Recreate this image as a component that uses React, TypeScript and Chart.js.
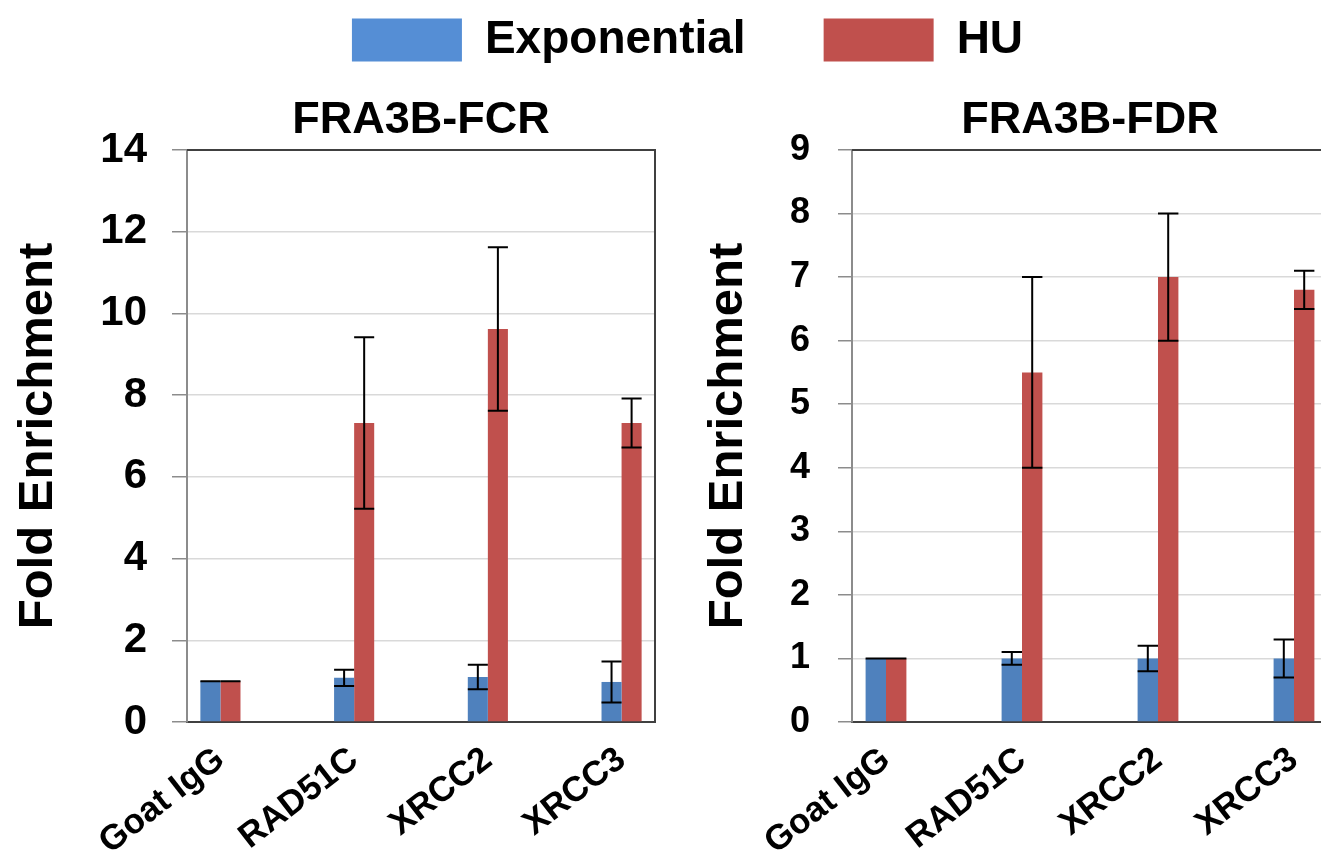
import React, { useEffect, useRef } from "react";
import { Chart, registerables } from "chart.js";

Chart.register(...registerables);

// ---------- data ----------
const categories = ["Goat IgG", "RAD51C", "XRCC2", "XRCC3"];
const seriesNames = ["Exponential", "HU"];

const fcrTitle = "FRA3B-FCR";
const fcrExponential = [1.0, 1.08, 1.1, 0.98];
const fcrExponentialErr = [0, 0.2, 0.3, 0.5];
const fcrHU = [1.0, 7.32, 9.62, 7.32];
const fcrHUErr = [0, 2.1, 2.0, 0.6];
const fcrYTicks = [0, 2, 4, 6, 8, 10, 12, 14];

const fdrTitle = "FRA3B-FDR";
const fdrExponential = [1.0, 1.0, 1.0, 1.0];
const fdrExponentialErr = [0, 0.1, 0.2, 0.3];
const fdrHU = [1.0, 5.5, 7.0, 6.8];
const fdrHUErr = [0, 1.5, 1.0, 0.3];
const fdrYTicks = [0, 1, 2, 3, 4, 5, 6, 7, 8, 9];

const yTitle = "Fold Enrichment";

// ---------- styles ----------
const FONT = "'Liberation Sans', Arial, sans-serif";
const BLUE = "#4f81bd";
const RED = "#c0504d";
const LEGEND_BLUE = "#558ed5";

const errorBarPlugin = {
  id: "errorBars",
  afterDatasetsDraw(chart: any) {
    const { ctx } = chart;
    const yScale = chart.scales.y;
    chart.data.datasets.forEach((ds: any, di: number) => {
      const errs = ds.errors;
      if (!errs) return;
      const meta = chart.getDatasetMeta(di);
      meta.data.forEach((bar: any, i: number) => {
        const v = ds.data[i].y;
        const e = errs[i];
        const top = yScale.getPixelForValue(v + e);
        const bot = yScale.getPixelForValue(v - e);
        const half = bar.width / 2;
        ctx.save();
        ctx.strokeStyle = "#000";
        ctx.lineWidth = 2;
        ctx.beginPath();
        ctx.moveTo(bar.x, top);
        ctx.lineTo(bar.x, bot);
        ctx.moveTo(bar.x - half, top);
        ctx.lineTo(bar.x + half, top);
        ctx.moveTo(bar.x - half, bot);
        ctx.lineTo(bar.x + half, bot);
        ctx.stroke();
        ctx.restore();
      });
    });
  },
};

const framePlugin = {
  id: "frame",
  afterDraw(chart: any) {
    const { ctx, chartArea: a } = chart;
    ctx.save();
    ctx.strokeStyle = "#404040";
    ctx.lineWidth = 2;
    ctx.beginPath();
    ctx.moveTo(a.left, a.top);
    ctx.lineTo(a.right, a.top);
    ctx.lineTo(a.right, a.bottom);
    ctx.stroke();
    ctx.restore();
  },
};

function panelConfig(p: {
  title: string;
  exp: number[];
  expErr: number[];
  hu: number[];
  huErr: number[];
  yTicks: number[];
  yAxisWidth: number;
  tickFont: number;
  tickPad: number;
  tickLen: number;
  yTitlePad: number;
  padRight: number;
}) {
  const yMax = p.yTicks[p.yTicks.length - 1];
  return {
    type: "bar",
    data: {
      datasets: [
        {
          label: seriesNames[0],
          data: p.exp.map((y, i) => ({ x: i, y })),
          errors: p.expErr,
          backgroundColor: BLUE,
          categoryPercentage: 0.3,
          barPercentage: 1.0,
        },
        {
          label: seriesNames[1],
          data: p.hu.map((y, i) => ({ x: i, y })),
          errors: p.huErr,
          backgroundColor: RED,
          categoryPercentage: 0.3,
          barPercentage: 1.0,
        },
      ],
    },
    options: {
      responsive: false,
      animation: false,
      layout: { padding: { left: 0, right: p.padRight, top: 0, bottom: 0 } },
      scales: {
        x: {
          type: "linear",
          min: -0.25,
          max: 3.25,
          offset: false,
          afterBuildTicks: (s: any) => {
            s.ticks = categories.map((_, i) => ({ value: i }));
          },
          afterFit: (s: any) => {
            s.height = 135;
          },
          ticks: {
            autoSkip: false,
            minRotation: 38,
            maxRotation: 38,
            padding: 9,
            color: "#000",
            font: { family: FONT, size: 35, weight: "bold" },
            callback: (_v: any, idx: number) => categories[idx],
          },
          grid: { display: false },
          border: { display: true, color: "#404040", width: 2 },
        },
        y: {
          min: 0,
          max: yMax,
          afterBuildTicks: (s: any) => {
            s.ticks = p.yTicks.map((v) => ({ value: v }));
          },
          afterFit: (s: any) => {
            s.width = p.yAxisWidth;
          },
          ticks: {
            color: "#000",
            padding: p.tickPad,
            font: { family: FONT, size: p.tickFont, weight: "bold" },
          },
          grid: {
            color: (c: any) => (c.tick && c.tick.value === 0 ? "rgba(0,0,0,0)" : "#d9d9d9"),
            lineWidth: 1.5,
            tickLength: p.tickLen,
            tickColor: "#8c8c8c",
            tickWidth: 1.5,
          },
          border: { color: "#8c8c8c", width: 2 },
          title: {
            display: true,
            text: yTitle,
            color: "#000",
            font: { family: FONT, size: 49, weight: "bold" },
            padding: { top: p.yTitlePad, bottom: 0 },
          },
        },
      },
      plugins: {
        legend: { display: false },
        tooltip: { enabled: false },
        title: {
          display: true,
          text: p.title,
          fullSize: false,
          color: "#000",
          font: { family: FONT, size: 45, weight: "bold" },
          padding: { top: 14, bottom: 2 },
        },
      },
    },
    plugins: [framePlugin, errorBarPlugin],
  };
}

function legendConfig() {
  return {
    type: "bar",
    data: {
      labels: ["a"],
      datasets: [
        { label: seriesNames[0], data: [0], backgroundColor: LEGEND_BLUE },
        { label: seriesNames[1], data: [0], backgroundColor: RED },
      ],
    },
    options: {
      responsive: false,
      animation: false,
      scales: { x: { display: false }, y: { display: false } },
      plugins: {
        tooltip: { enabled: false },
        legend: {
          display: true,
          position: "top",
          labels: {
            boxWidth: 110,
            boxHeight: 43,
            padding: 78,
            color: "#000",
            font: { family: FONT, size: 46, weight: "bold" },
          },
        },
      },
    },
  };
}

function ChartCanvas(props: { config: any; left: number; top: number; width: number; height: number }) {
  const ref = useRef<HTMLCanvasElement>(null);
  useEffect(() => {
    const chart = new Chart(ref.current as HTMLCanvasElement, props.config);
    return () => chart.destroy();
  }, []);
  return (
    <canvas
      ref={ref}
      width={props.width}
      height={props.height}
      style={{ position: "absolute", left: props.left, top: props.top, width: props.width, height: props.height }}
    />
  );
}

export default function App() {
  const left = panelConfig({
    title: fcrTitle,
    exp: fcrExponential,
    expErr: fcrExponentialErr,
    hu: fcrHU,
    huErr: fcrHUErr,
    yTicks: fcrYTicks,
    yAxisWidth: 187,
    tickFont: 42,
    tickPad: 25,
    tickLen: 15,
    yTitlePad: 9,
    padRight: 25,
  });
  const right = panelConfig({
    title: fdrTitle,
    exp: fdrExponential,
    expErr: fdrExponentialErr,
    hu: fdrHU,
    huErr: fdrHUErr,
    yTicks: fdrYTicks,
    yAxisWidth: 172,
    tickFont: 36,
    tickPad: 28,
    tickLen: 14,
    yTitlePad: 19,
    padRight: 2,
  });
  return (
    <div
      style={{
        position: "fixed",
        left: 0,
        top: 0,
        width: 1321,
        height: 857,
        overflow: "hidden",
        background: "#fff",
      }}
    >
      <ChartCanvas config={left} left={0} top={80} width={680} height={777} />
      <ChartCanvas config={right} left={680} top={80} width={650} height={777} />
      <ChartCanvas config={legendConfig()} left={27} top={-61} width={1321} height={300} />
    </div>
  );
}
